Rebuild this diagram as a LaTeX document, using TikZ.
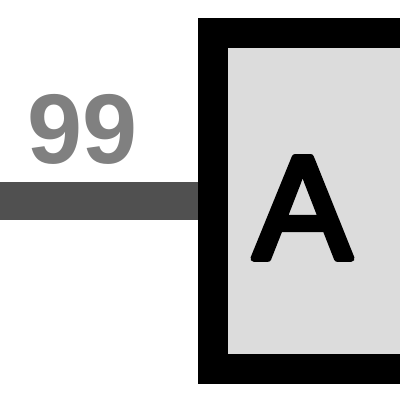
\documentclass[tikz,border=0pt]{standalone}
\usepackage{fontspec}
\setmainfont{Liberation Sans}
\newfontfamily\Afont[FakeBold=4.5]{Liberation Sans}
\usetikzlibrary{backgrounds}
\definecolor{boxfill}{HTML}{DCDCDC}
\definecolor{wire}{HTML}{505050}
\definecolor{numgray}{HTML}{808080}
\tikzset{
  blockbox/.style={draw=black, line width=30pt, fill=boxfill, inner sep=0pt, outer sep=0pt},
  biglabel/.style={font=\Afont\fontsize{147}{147}\selectfont, text=black, line join=round, inner sep=0pt, anchor=base},
  numlabel/.style={font=\bfseries\fontsize{99}{99}\selectfont, text=numgray, inner sep=0pt, anchor=base},
  wireline/.style={draw=wire, line width=38pt}
}
\begin{document}
\begin{tikzpicture}[x=1pt,y=-1pt]
\useasboundingbox (0,0) rectangle (400,400);
\clip (0,0) rectangle (400,400);
\node[blockbox, minimum width=236.7pt, minimum height=336.7pt, anchor=north west] (box) at (213.3,32.5) {};
\node[biglabel] (lbl) at (302.5,258.5) {A};
\node[numlabel] (num) at (83,163) {99};
\coordinate (wstart) at (box.west -| 0,0);
\begin{pgfonlayer}{background}
\draw[wireline] (wstart) -- (box.west);
\end{pgfonlayer}
\end{tikzpicture}
\end{document}
